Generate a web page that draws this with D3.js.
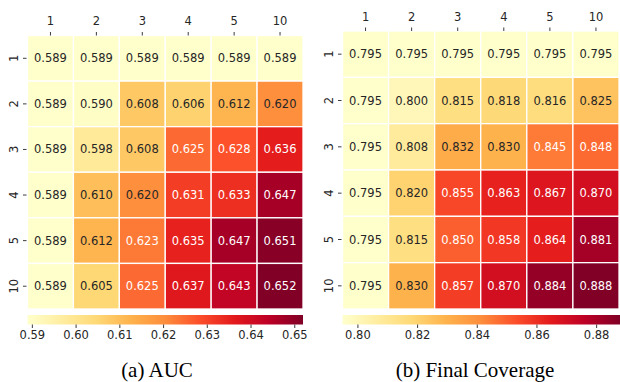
<!DOCTYPE html>
<html><head><meta charset="utf-8">
<script src="https://cdn.jsdelivr.net/npm/d3@7/dist/d3.min.js"></script>
<style>
body{margin:0;background:#fff}
svg{display:block}
text{font-family:"DejaVu Sans",sans-serif;fill:#262626}
.cap{font-family:"Liberation Serif","Times New Roman",serif;fill:#000}
</style></head>
<body>
<svg id="chart" width="620" height="382"></svg>
<script>
const colLabels = ["1","2","3","4","5","10"];
const rowLabels = ["1","2","3","4","5","10"];
const aucValues = [
  [0.589,0.589,0.589,0.589,0.589,0.589],
  [0.589,0.590,0.608,0.606,0.612,0.620],
  [0.589,0.598,0.608,0.625,0.628,0.636],
  [0.589,0.610,0.620,0.631,0.633,0.647],
  [0.589,0.612,0.623,0.635,0.647,0.651],
  [0.589,0.605,0.625,0.637,0.643,0.652]
];
const covValues = [
  [0.795,0.795,0.795,0.795,0.795,0.795],
  [0.795,0.800,0.815,0.818,0.816,0.825],
  [0.795,0.808,0.832,0.830,0.845,0.848],
  [0.795,0.820,0.855,0.863,0.867,0.870],
  [0.795,0.815,0.850,0.858,0.864,0.881],
  [0.795,0.830,0.857,0.870,0.884,0.888]
];
const aucTicks = [0.59,0.60,0.61,0.62,0.63,0.64,0.65];
const covTicks = [0.80,0.82,0.84,0.86,0.88];
const captions = ["(a) AUC","(b) Final Coverage"];

// matplotlib YlOrRd stops
const ylorrd = [[1.0,1.0,0.8],[1.0,0.929,0.627],[0.996,0.851,0.463],[0.996,0.698,0.298],
  [0.992,0.553,0.235],[0.988,0.306,0.165],[0.890,0.102,0.110],[0.741,0.0,0.149],[0.502,0.0,0.149]]
  .map(c=>d3.rgb(c[0]*255,c[1]*255,c[2]*255).formatHex());
const stopPos = ylorrd.map((_,i)=>i/(ylorrd.length-1));
const cmap = d3.scaleLinear().domain(stopPos).range(ylorrd).interpolate(d3.interpolateRgb).clamp(true);

function lum(hex){
  const c=d3.rgb(hex);
  const f=v=>{v/=255;return v<=0.03928? v/12.92: Math.pow((v+0.055)/1.055,2.4);};
  return 0.2126*f(c.r)+0.7152*f(c.g)+0.0722*f(c.b);
}

const svg = d3.select("#chart");
const defs = svg.append("defs");

function panel(id, values, ticks, fmtTick, cfg){
  const flat = values.flat();
  const vmin = d3.min(flat), vmax = d3.max(flat);
  const norm = d3.scaleLinear().domain([vmin,vmax]).range([0,1]);
  const x = d3.scaleBand().domain(colLabels).range([cfg.x0,cfg.x1]);
  const y = d3.scaleBand().domain(rowLabels).range([cfg.y0,cfg.y1]);
  const g = svg.append("g");
  const cells = [];
  values.forEach((row,i)=>row.forEach((v,j)=>cells.push({r:rowLabels[i],c:colLabels[j],v})));
  g.selectAll("rect.cell").data(cells).join("rect")
    .attr("x",d=>x(d.c)).attr("y",d=>y(d.r))
    .attr("width",x.bandwidth()).attr("height",y.bandwidth())
    .attr("fill",d=>cmap(norm(d.v)))
    .attr("stroke","#fff").attr("stroke-width",1.3);
  g.selectAll("text.ann").data(cells).join("text")
    .attr("x",d=>x(d.c)+x.bandwidth()/2).attr("y",d=>y(d.r)+y.bandwidth()/2)
    .attr("text-anchor","middle").attr("dominant-baseline","central")
    .style("font-size","11.5px")
    .style("fill",d=>lum(cmap(norm(d.v)))>0.408?"#262626":"#ffffff")
    .text(d=>d.v.toFixed(3));
  // top ticks
  colLabels.forEach(c=>{
    const cx = x(c)+x.bandwidth()/2;
    g.append("line").attr("x1",cx).attr("x2",cx).attr("y1",cfg.y0-3.5).attr("y2",cfg.y0)
      .attr("stroke","#262626").attr("stroke-width",0.9);
    g.append("text").attr("x",cx).attr("y",cfg.y0-10.5).attr("text-anchor","middle")
      .style("font-size","11.5px").text(c);
  });
  // left ticks
  rowLabels.forEach(r=>{
    const cy = y(r)+y.bandwidth()/2;
    g.append("line").attr("x1",cfg.x0-4.5).attr("x2",cfg.x0-1).attr("y1",cy).attr("y2",cy)
      .attr("stroke","#262626").attr("stroke-width",0.9);
    g.append("text").attr("transform",`translate(${cfg.x0-10},${cy}) rotate(-90)`)
      .attr("text-anchor","middle").style("font-size","11.5px").text(r);
  });
  // colorbar
  const gradId = "grad"+id;
  const grad = defs.append("linearGradient").attr("id",gradId).attr("x1","0%").attr("x2","100%");
  ylorrd.forEach((c,i)=>grad.append("stop").attr("offset",(stopPos[i]*100)+"%").attr("stop-color",c));
  const cb = d3.scaleLinear().domain([vmin,vmax]).range([cfg.cbx0,cfg.cbx1]);
  g.append("rect").attr("x",cfg.cbx0).attr("y",315).attr("width",cfg.cbx1-cfg.cbx0).attr("height",9.5)
    .attr("fill",`url(#${gradId})`);
  const ax = g.append("g").attr("transform","translate(0,324.5)")
    .call(d3.axisBottom(cb).tickValues(ticks).tickFormat(fmtTick).tickSize(3.5).tickPadding(3));
  ax.select(".domain").remove();
  ax.selectAll(".tick line").attr("stroke","#262626").attr("stroke-width",0.9);
  ax.selectAll(".tick text").style("font-size","11.5px").style("font-family","DejaVu Sans").attr("fill","#262626");
  g.append("text").attr("class","cap").attr("x",cfg.capx).attr("y",377).attr("text-anchor","middle")
    .style("font-size","21px").text(cfg.caption);
}

panel("a", aucValues, aucTicks, d3.format(".2f"),
  {x0:27.5,x1:303,y0:35.5,y1:309,cbx0:27.5,cbx1:303,capx:157,caption:captions[0]});
panel("b", covValues, covTicks, d3.format(".2f"),
  {x0:342.5,x1:619,y0:31,y1:309,cbx0:342.5,cbx1:620,capx:475,caption:captions[1]});
</script>
</body></html>
